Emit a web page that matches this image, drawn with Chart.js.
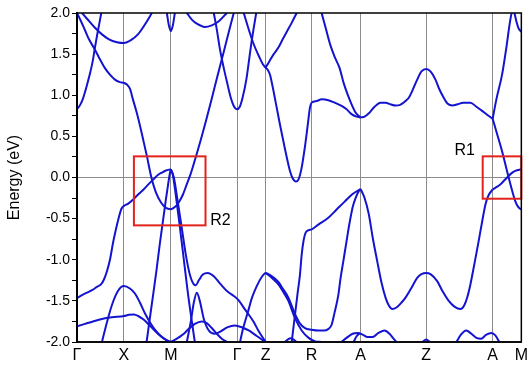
<!DOCTYPE html>
<html><head><meta charset="utf-8">
<script src="https://cdn.jsdelivr.net/npm/chart.js@4/dist/chart.umd.min.js"></script>
<style>html,body{margin:0;padding:0;background:#fff}canvas{display:block}</style>
</head><body>
<canvas id="c" width="532" height="367"></canvas>
<script>
// High-symmetry k-path positions and labels
const kPositions = [0, 47, 94, 160.3, 189, 235, 284, 349.7, 416.3, 445];
const kLabels = ['Γ', 'X', 'M', 'Γ', 'Z', 'R', 'A', 'Z', 'A', 'M'];
const yMin = -2.0, yMax = 2.0, yStep = 0.25;

// Bands: [k, energy (eV)]
const bandA = [[0,0.83],[3,0.88],[6,0.96],[8.3,1.05],[11,1.17],[13.3,1.28],[16,1.43],[17.7,1.56],[20,1.72],[22,1.85],[24.3,2.0]];
const bandB = [[5,2.0],[10,1.93],[18,1.82],[25,1.74],[32,1.68],[40,1.645],[47,1.635],[54,1.67],[61,1.74],[68,1.86],[75,2.0]];
const bandC = [[0,2.0],[4,1.9],[8,1.79],[12,1.68],[17.7,1.56],[22,1.46],[28,1.33],[33,1.25],[38,1.19],[43,1.16],[47,1.15],[50,1.13],[53,1.08],[56,0.95],[60,0.78],[65,0.53],[70,0.26],[74.5,0.0],[79,-0.18],[84,-0.3],[89,-0.37],[94,-0.385],[98,-0.36],[102,-0.3],[106,-0.21],[110,-0.08],[114,0.05],[119,0.25],[124,0.46],[129,0.68],[135,0.96],[141,1.25],[147,1.53],[152,1.77],[157,2.0]];
const bandD = [[0,-1.465],[5,-1.43],[10,-1.4],[15,-1.37],[20,-1.33],[24,-1.3],[27,-1.24],[30,-1.14],[33,-1.0],[36,-0.8],[39,-0.63],[42,-0.48],[44.5,-0.38],[47,-0.345],[51,-0.32],[56,-0.27],[61,-0.21],[66.7,-0.145],[71,-0.09],[76.7,-0.02],[81,0.03],[85,0.06],[89,0.085],[94,0.1]];
const bandE = [[25,-2.0],[30,-1.76],[35,-1.55],[41,-1.38],[47,-1.32],[53,-1.35],[58,-1.41],[63,-1.52],[68,-1.65],[73,-1.76],[78,-1.85],[85,-1.94],[92,-2.0]];
const bandJ = [[0,-1.81],[8,-1.78],[16,-1.75],[25,-1.72],[35,-1.70],[47,-1.685],[52,-1.67],[57,-1.665],[62,-1.69],[67,-1.73],[72,-1.79],[77,-1.85],[83,-1.92],[89,-1.97],[94,-2.0]];
const bandS1 = [[69.7,-2.0],[74,-1.62],[79.7,-1.12],[83,-0.8],[86.3,-0.51],[89,-0.27],[91.3,-0.08],[93,0.05],[94,0.1]];
const bandF = [[94,0.1],[96,0.03],[99,-0.22],[103,-0.6],[107,-1.0],[111,-1.4],[115,-1.75],[118,-2.0]];
const bandG = [[94,0.1],[97,0.0],[101,-0.3],[105,-0.62],[109,-0.94],[113,-1.18],[117,-1.3],[119,-1.31],[122,-1.25],[126,-1.18],[131,-1.16],[137,-1.2],[144,-1.3],[151,-1.39],[157,-1.44],[161.7,-1.49],[168,-1.6],[176.7,-1.75],[182,-1.87],[189,-2.0]];
const bandH = [[110,-2.0],[114,-1.75],[117,-1.52],[120,-1.40],[123,-1.5],[127,-1.72],[132,-1.86],[138,-1.9],[144,-1.87],[151,-1.82],[158,-1.80],[165,-1.82],[172,-1.86],[178,-1.91],[184,-1.96],[189,-2.0]];
const bandI = [[94,-2.0],[100,-1.96],[106,-1.91],[112,-1.84],[118,-1.78],[125,-1.75],[130,-1.77],[135,-1.83],[140,-1.9],[145,-1.96],[150,-2.0]];
const bandMdip = [[90,2.0],[92,1.85],[94,1.78],[96,1.85],[98,2.0]];
const bandArc = [[110,2.0],[115,1.92],[120,1.87],[128,1.83],[135,1.85],[142,1.9],[150,2.0]];
const bandU = [[137,2.0],[140,1.8],[143,1.57],[147,1.33],[151,1.12],[154,0.97],[157,0.87],[160.3,0.83],[163,0.86],[166,0.98],[169.7,1.2],[172,1.4],[174.7,1.64],[177,1.82],[179.5,2.0]];
const bandP = [[167,2.0],[172,1.8],[177,1.62],[182,1.48],[186,1.38],[189,1.335],[191,1.31],[193.3,1.25],[196,1.1],[200,0.85],[203,0.66],[206.7,0.44],[210,0.25],[213.3,0.08],[216,-0.01],[219.3,-0.05],[222,-0.02],[225,0.12],[228,0.35],[231,0.63],[233.3,0.85],[235,0.91],[240,0.93],[245,0.95],[251.7,0.94],[258,0.91],[265,0.87],[270,0.83],[275,0.77],[280,0.74],[284,0.73]];
const bandQ = [[189,1.335],[193,1.42],[197,1.5],[201.7,1.58],[206,1.68],[210,1.77],[215,1.88],[220,2.0]];
const bandT = [[245,2.0],[249,1.82],[254,1.6],[258.3,1.46],[263,1.33],[267,1.15],[271,1.01],[275,0.89],[279,0.79],[282,0.75],[284,0.73]];
const bandK = [[163.3,-2.0],[166,-1.85],[168.3,-1.75],[172,-1.6],[175,-1.47],[180,-1.32],[185,-1.21],[189,-1.16],[195,-1.2],[201.7,-1.27],[206,-1.35],[211.7,-1.46],[218.3,-1.66],[223,-1.77],[228.3,-1.83],[235,-1.85],[242,-1.86],[248.3,-1.86],[252,-1.84],[255,-1.79],[258,-1.64],[261.7,-1.43],[264,-1.22],[266.7,-1.02],[270,-0.77],[273,-0.55],[276.3,-0.35],[279,-0.25],[282,-0.17],[284,-0.14]];
const bandK2 = [[189,-1.16],[195,-1.22],[201.7,-1.3],[206,-1.38],[211.7,-1.5],[218,-1.7],[225,-1.86],[232,-1.95],[238,-1.99],[245,-2.0]];
const bandS2 = [[215,-2.0],[218,-1.7],[221,-1.4],[223.3,-1.18],[225,-0.94],[227,-0.76],[229,-0.67],[232,-0.64],[235,-0.63],[242,-0.57],[251.7,-0.49],[260,-0.39],[268.3,-0.29],[276,-0.2],[284,-0.14]];
const bandRb = [[208,-2.0],[211,-1.97],[214,-1.955],[217,-1.97],[220,-2.0]];
const bandTopAZA = [[284,0.73],[288,0.74],[292.3,0.78],[298,0.86],[304,0.91],[309,0.91],[314,0.89],[319,0.875],[323,0.88],[328,0.92],[332.3,0.97],[336,1.06],[340.7,1.19],[345,1.29],[349.7,1.32],[354,1.29],[359,1.19],[363,1.07],[367.3,0.97],[371,0.9],[376,0.875],[381,0.89],[387,0.91],[394,0.91],[400,0.86],[405.7,0.81],[411,0.76],[416.3,0.715]];
const bandValAZA = [[284,-0.14],[288,-0.25],[292.3,-0.45],[296,-0.72],[300.7,-1.02],[305,-1.28],[309,-1.46],[312.5,-1.56],[315.7,-1.6],[320,-1.58],[325,-1.52],[329,-1.46],[335,-1.34],[340.7,-1.22],[345,-1.175],[349.7,-1.16],[354,-1.175],[360.7,-1.26],[366,-1.38],[372.3,-1.5],[378,-1.57],[384,-1.6],[388,-1.55],[391,-1.45],[394,-1.3],[398,-1.05],[402.3,-0.77],[406,-0.52],[409,-0.33],[412,-0.22],[416.3,-0.145]];
const bandB1 = [[265,-2.0],[270,-1.95],[276,-1.9],[281.7,-1.89],[286,-1.91],[291,-1.94],[296,-1.94],[302,-1.89],[308,-1.86],[313,-1.9],[317,-1.96],[320,-2.0]];
const bandB1b = [[277,-2.0],[280,-1.93],[283,-1.895]];
const bandB2 = [[346,-2.0],[349.7,-1.97],[353.5,-2.0]];
const bandB3 = [[380,-2.0],[384,-1.92],[389.7,-1.86],[395,-1.9],[400,-1.95],[404.7,-1.96],[410,-1.91],[415,-1.89],[419,-1.92],[423,-2.0]];
const bandR1val = [[416.3,-0.145],[419,-0.125],[422.3,-0.1],[426,-0.06],[430.7,0.0],[435,0.05],[439,0.08],[445,0.1]];
const bandR1cond = [[416.3,0.715],[420,0.56],[425.7,0.32],[432.3,0.0],[439,-0.29],[442,-0.36],[445,-0.39]];
const bandUpM = [[416.3,0.715],[420,0.95],[425.7,1.25],[430,1.58],[434,1.92],[436,2.02],[438,2.0],[440,1.9],[442,1.82],[445,1.77]];

const bands = [bandA,bandB,bandC,bandD,bandE,bandJ,bandS1,bandF,bandG,bandH,bandI,bandMdip,bandArc,bandU,bandP,bandQ,bandT,bandK,bandK2,bandS2,bandRb,bandTopAZA,bandValAZA,bandB1,bandB1b,bandB2,bandB3,bandR1val,bandR1cond,bandUpM];

// Highlight boxes (data units) and their labels
const boxes = [
  {name:'R2', k0:57, k1:128.7, e0:0.257, e1:-0.582, labelK:133.5, labelE:-0.52},
  {name:'R1', k0:406.3, k1:445, e0:0.257, e1:-0.258, labelK:378, labelE:0.33}
];

const BLUE = '#1414d0';
const FONT = '"Liberation Sans", Arial, sans-serif';

const framePlugin = {
  id:'frame',
  afterDatasetsDraw(chart){
    const {ctx, chartArea:a, scales:{x, y}} = chart;
    ctx.save();
    ctx.strokeStyle = '#e3221c';
    ctx.lineWidth = 2;
    ctx.font = '16px ' + FONT;
    ctx.fillStyle = '#000';
    ctx.textBaseline = 'middle';
    boxes.forEach(b=>{
      const x0 = x.getPixelForValue(b.k0), x1 = x.getPixelForValue(b.k1);
      const y0 = y.getPixelForValue(b.e0), y1 = y.getPixelForValue(b.e1);
      ctx.strokeRect(x0, y0, x1-x0, y1-y0);
      ctx.fillText(b.name, x.getPixelForValue(b.labelK), y.getPixelForValue(b.labelE));
    });
    ctx.strokeStyle = '#000';
    ctx.lineWidth = 1.5;
    ctx.strokeRect(a.left, a.top, a.right-a.left, a.bottom-a.top);
    ctx.restore();
  }
};

new Chart(document.getElementById('c'), {
  type:'scatter',
  data:{datasets: bands.map(b=>({
    data: b.map(([k,e])=>({x:k,y:e})),
    showLine:true, borderColor:BLUE, borderWidth:2, pointRadius:0, pointHoverRadius:0,
    fill:false, cubicInterpolationMode:'monotone', clip:0
  }))},
  options:{
    responsive:false, animation:false, devicePixelRatio:1,
    layout:{padding:{top:13,right:10,left:0,bottom:0}},
    plugins:{legend:{display:false}, tooltip:{enabled:false}},
    events:[],
    scales:{
      x:{type:'linear', min:0, max:445,
        afterBuildTicks: s => { s.ticks = kPositions.map(v=>({value:v})); },
        afterFit: s => { s.height = 25; },
        ticks:{autoSkip:false, maxRotation:0, padding:4, color:'#000',
          font:{family:FONT, size:16},
          callback:(v,i)=>kLabels[i]},
        grid:{color:'#8c8c8c', lineWidth:1, drawTicks:false},
        border:{color:'#333', width:2}
      },
      y:{min:yMin, max:yMax,
        afterFit: s => { s.width = 77; },
        ticks:{stepSize:yStep, color:'#000', padding:2,
          font:{family:FONT, size:14},
          callback:v => (Math.abs(v*2-Math.round(v*2))<1e-6) ? Number(v).toFixed(1) : ''},
        grid:{color: c => (c.tick && Math.abs(c.tick.value)<1e-9) ? '#8c8c8c' : 'rgba(0,0,0,0)',
          tickColor:'#000', tickLength:5, lineWidth:1},
        border:{color:'#000', width:2},
        title:{display:true, text:'Energy (eV)', color:'#000', font:{family:FONT, size:16}, padding:{top:5,bottom:0}}
      }
    }
  },
  plugins:[framePlugin]
});
</script>
</body></html>
